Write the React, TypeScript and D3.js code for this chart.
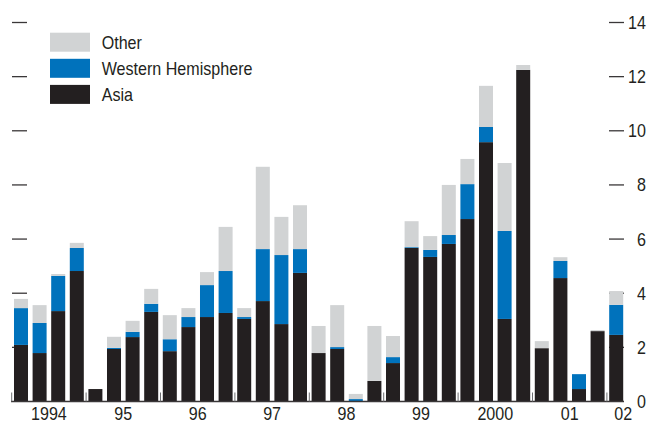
import React from "react";
import * as d3 from "d3";

const quarters: string[] = [
  "1994Q1","1994Q2","1994Q3","1994Q4",
  "1995Q1","1995Q2","1995Q3","1995Q4",
  "1996Q1","1996Q2","1996Q3","1996Q4",
  "1997Q1","1997Q2","1997Q3","1997Q4",
  "1998Q1","1998Q2","1998Q3","1998Q4",
  "1999Q1","1999Q2","1999Q3","1999Q4",
  "2000Q1","2000Q2","2000Q3","2000Q4",
  "2001Q1","2001Q2","2001Q3","2001Q4",
  "2002Q1",
];

const asia: number[] = [
  2.09, 1.79, 3.34, 4.82,
  0.46, 1.94, 2.38, 3.31,
  1.86, 2.75, 3.12, 3.27,
  3.05, 3.71, 2.86, 4.75,
  1.79, 1.94, 0.0, 0.76,
  1.42, 5.67, 5.34, 5.82,
  6.74, 9.58, 3.05, 12.25,
  1.97, 4.56, 0.46, 2.60,
  2.46,
];

const westernHemisphere: number[] = [
  1.36, 1.11, 1.30, 0.85,
  0.0, 0.04, 0.19, 0.30,
  0.44, 0.37, 1.18, 1.55,
  0.07, 1.92, 2.55, 0.88,
  0.0, 0.07, 0.09, 0.0,
  0.22, 0.03, 0.26, 0.33,
  1.29, 0.56, 3.25, 0.0,
  0.0, 0.63, 0.55, 0.0,
  1.11,
];

const other: number[] = [
  0.34, 0.66, 0.07, 0.19,
  0.0, 0.41, 0.41, 0.55,
  0.89, 0.33, 0.48, 1.63,
  0.33, 3.04, 1.41, 1.62,
  1.00, 1.55, 0.19, 2.03,
  0.78, 0.96, 0.51, 1.85,
  0.93, 1.52, 2.51, 0.18,
  0.26, 0.14, 0.0, 0.04,
  0.51,
];

const yearLabels: string[] = ["1994", "95", "96", "97", "98", "99", "2000", "01", "02"];
const yTicks: number[] = [0, 2, 4, 6, 8, 10, 12, 14];

const seriesKeys = ["asia", "wh", "other"] as const;
const seriesNames: Record<string, string> = {
  other: "Other",
  wh: "Western Hemisphere",
  asia: "Asia",
};
const colors: Record<string, string> = {
  asia: "#231f20",
  wh: "#0072bc",
  other: "#d1d3d4",
};

const W = 649;
const H = 424;
const FONT = "'Liberation Sans', Arial, sans-serif";
const TEXT = "#231f20";
const AXIS = "#3a3738";
const FS = 17.5;
const SX = 0.92;

function T(props: { x: number; y: number; anchor?: string; children: React.ReactNode }) {
  return (
    <text
      transform={`translate(${props.x},${props.y}) scale(${SX},1)`}
      textAnchor={props.anchor || "start"}
      fontSize={FS}
      fill={TEXT}
    >
      {props.children}
    </text>
  );
}

export default function App() {
  const rows = quarters.map((q, i) => ({
    q,
    asia: asia[i],
    wh: westernHemisphere[i],
    other: other[i],
  }));

  const stack = d3.stack<any>().keys(seriesKeys as unknown as string[]);
  const stacked = stack(rows);

  const x0 = 11.7;
  const x1 = 625.5;
  const x = d3
    .scaleBand<string>()
    .domain(quarters)
    .range([x0, x1])
    .paddingInner(0.247)
    .paddingOuter(0.1235);
  const step = x.step();
  const halfGap = (step * x.paddingInner()) / 2;

  const y = d3.scaleLinear().domain([0, 14]).range([401.5, 22.5]);

  const yearBounds = d3.range(0, 9).map((k) => (x(quarters[k * 4]) as number) - halfGap);

  const legendOrder = ["other", "wh", "asia"];

  return (
    <svg
      width={W}
      height={H}
      style={{ position: "absolute", left: 0, top: 0, background: "#fff" }}
      fontFamily={FONT}
    >
      <rect x={0} y={0} width={W} height={H} fill="#fff" />

      {/* left and right ticks (drawn beneath bars) */}
      {yTicks
        .filter((t) => t > 0)
        .map((t) => (
          <g key={"t" + t}>
            <line x1={12} x2={27} y1={y(t)} y2={y(t)} stroke={AXIS} strokeWidth={1.3} />
            <line x1={609} x2={624} y1={y(t)} y2={y(t)} stroke={AXIS} strokeWidth={1.3} />
          </g>
        ))}

      {/* bars */}
      {stacked.map((s) => (
        <g key={s.key} fill={colors[s.key]}>
          {s.map((d, i) => {
            const h = y(d[0]) - y(d[1]);
            if (h <= 0) return null;
            return (
              <rect
                key={i}
                x={x(quarters[i])}
                width={x.bandwidth()}
                y={y(d[1])}
                height={h}
              />
            );
          })}
        </g>
      ))}

      {/* baseline */}
      <line x1={11} x2={624} y1={y(0)} y2={y(0)} stroke={AXIS} strokeWidth={1.5} />

      {/* year boundary ticks */}
      {yearBounds.map((bx, k) => (
        <line
          key={"yb" + k}
          x1={bx}
          x2={bx}
          y1={y(0)}
          y2={y(0) - 9}
          stroke="#6d6e71"
          strokeWidth={1}
        />
      ))}

      {/* right axis labels */}
      {yTicks.map((t) => (
        <T key={"l" + t} x={646} y={y(t) + 6.5} anchor="end">
          {t}
        </T>
      ))}

      {/* year labels */}
      {yearLabels.map((lab, k) => {
        const cx =
          k < 8
            ? yearBounds[k] + 2 * step
            : (x(quarters[32]) as number) + x.bandwidth() / 2 + 7;
        return (
          <T key={"yl" + k} x={cx} y={420} anchor="middle">
            {lab}
          </T>
        );
      })}

      {/* legend */}
      {legendOrder.map((k, i) => {
        const top = 32.7 + i * 26.1;
        return (
          <g key={"lg" + k}>
            <rect x={50} y={top} width={40} height={19} fill={colors[k]} />
            <T x={101.7} y={top + 16}>
              {seriesNames[k]}
            </T>
          </g>
        );
      })}
    </svg>
  );
}
